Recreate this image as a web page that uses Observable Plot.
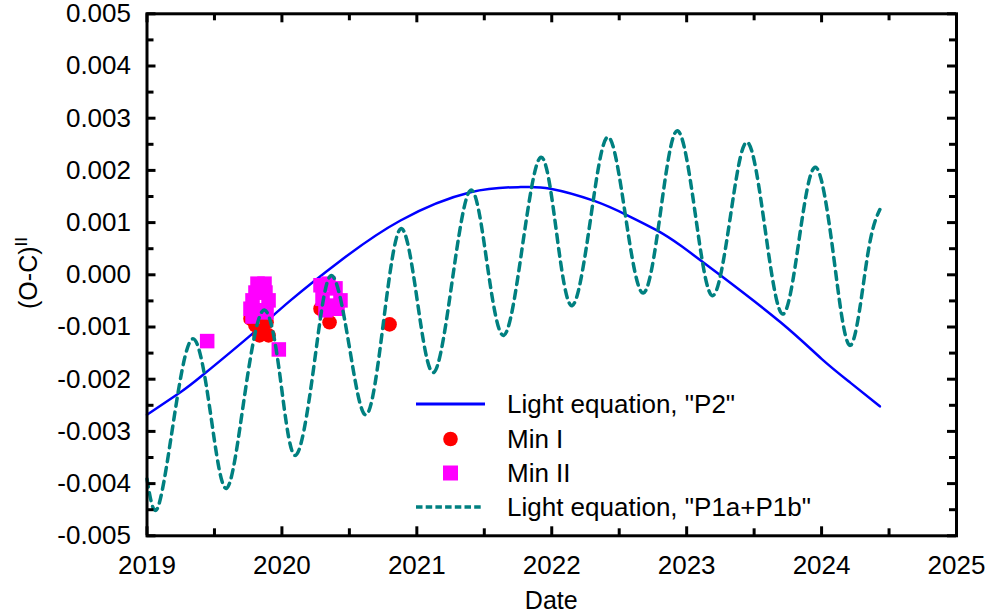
<!DOCTYPE html>
<html>
<head>
<meta charset="utf-8">
<script src="https://cdn.jsdelivr.net/npm/d3@7"></script>
<script src="https://cdn.jsdelivr.net/npm/@observablehq/plot@0.6"></script>
<style>
  html, body { margin: 0; padding: 0; background: #fff; }
  #chart { width: 989px; height: 616px; }
</style>
</head>
<body>
<div id="chart"></div>
<script>
// Light equation "P2" (long-period term), O-C in days
const p2Years = [2019.000, 2019.248, 2019.409, 2019.767, 2020.064, 2020.434, 2020.879, 2021.398, 2021.769, 2021.990, 2022.310, 2022.560, 2022.780, 2022.955, 2023.250, 2023.696, 2024.000, 2024.215, 2024.432];
const p2Values = [-0.00268, -0.00225, -0.00193, -0.00116, -0.00049, 0.00027, 0.00104, 0.00158, 0.00168, 0.00165, 0.00142, 0.00114, 0.00085, 0.00056, -0.00001, -0.00091, -0.00161, -0.00207, -0.00252];

// Light equation "P1a+P1b" (short-period terms added)
const p1Years = [2019.000, 2019.076, 2019.190, 2019.335, 2019.471, 2019.590, 2019.718, 2019.854, 2019.977, 2020.096, 2020.236, 2020.360, 2020.496, 2020.627, 2020.753, 2020.879, 2021.003, 2021.126, 2021.262, 2021.398, 2021.520, 2021.645, 2021.780, 2021.917, 2022.035, 2022.152, 2022.286, 2022.416, 2022.547, 2022.678, 2022.805, 2022.930, 2023.062, 2023.190, 2023.322, 2023.449, 2023.580, 2023.709, 2023.832, 2023.956, 2024.088, 2024.215, 2024.339, 2024.432];
const p1Values = [-0.00391, -0.00448, -0.00292, -0.00123, -0.00266, -0.00409, -0.00241, -0.00070, -0.00177, -0.00346, -0.00177, -0.00002, -0.00132, -0.00268, -0.00090, 0.00088, -0.00049, -0.00187, -0.00012, 0.00162, 0.00023, -0.00116, 0.00050, 0.00225, 0.00082, -0.00059, 0.00104, 0.00264, 0.00112, -0.00035, 0.00118, 0.00276, 0.00120, -0.00040, 0.00108, 0.00254, 0.00090, -0.00075, 0.00065, 0.00206, 0.00038, -0.00135, 0.00034, 0.00125];

// Primary minima
const minIYears = [2019.767, 2019.804, 2019.856, 2019.886, 2019.901, 2019.834, 2020.286, 2020.353, 2020.798];
const minIValues = [-0.00084, -0.00097, -0.00107, -0.00091, -0.00116, -0.00116, -0.00065, -0.00091, -0.00095];

// Secondary minima
const minIIYears = [2019.446, 2019.977, 2019.819, 2019.871, 2019.804, 2019.878, 2019.782, 2019.901, 2019.767, 2019.841, 2019.886, 2019.782, 2020.286, 2020.345, 2020.397, 2020.434, 2020.301, 2020.360, 2020.323, 2020.412];
const minIIValues = [-0.00127, -0.00143, -0.00017, -0.00017, -0.00034, -0.00034, -0.00049, -0.00049, -0.00065, -0.00068, -0.00072, -0.00080, -0.00020, -0.00017, -0.00026, -0.00049, -0.00046, -0.00059, -0.00068, -0.00065];

// Axis ticks
const xMajor = [2019, 2020, 2021, 2022, 2023, 2024, 2025];
const xMinor = [2019.5, 2020.5, 2021.5, 2022.5, 2023.5, 2024.5];
const yMajor = [-0.005, -0.004, -0.003, -0.002, -0.001, 0, 0.001, 0.002, 0.003, 0.004, 0.005];
const yMinor = [-0.0045, -0.0035, -0.0025, -0.0015, -0.0005, 0.0005, 0.0015, 0.0025, 0.0035, 0.0045];

const legendLabels = ['Light equation, "P2"', 'Min I', 'Min II', 'Light equation, "P1a+P1b"'];

const zip = (xs, ys) => xs.map((x, i) => ({x, y: ys[i]}));
const p2 = zip(p2Years, p2Values);
const p1 = zip(p1Years, p1Values);
const minI = zip(minIYears, minIValues);
const minII = zip(minIIYears, minIIValues);

const W = 989, H = 616;
const mL = 146.5, mR = 33, mT = 13.3, mB = 80.7;
const innerH = H - mT - mB;
const innerW = W - mL - mR;
const FONT = "'Liberation Sans', Arial, Helvetica, sans-serif";
const BLUE = "#0000ff", TEAL = "#008080", RED = "#ff0000", MAGENTA = "#ff00ff";
const DASH = "8,6";
const fmtY = v => (Math.abs(v) < 1e-12 ? 0 : v).toFixed(3);

const chart = Plot.plot({
  width: W,
  height: H,
  marginLeft: mL,
  marginRight: mR,
  marginTop: mT,
  marginBottom: mB,
  style: {fontFamily: FONT, fontSize: "26px", background: "#fff", color: "#000", overflow: "visible"},
  x: {domain: [2019, 2025], axis: null},
  y: {domain: [-0.005, 0.005], axis: null},
  marks: [
    Plot.line(p2, {x: "x", y: "y", stroke: BLUE, strokeWidth: 2.5, curve: "natural"}),
    Plot.dot(minI, {x: "x", y: "y", r: 7.3, fill: RED, stroke: "none"}),
    Plot.dot(minII, {x: "x", y: "y", r: 8.2, symbol: "square", fill: MAGENTA, stroke: "none"}),
    Plot.line(p1, {x: "x", y: "y", stroke: TEAL, strokeWidth: 3.5, strokeDasharray: DASH, curve: "natural"}),
    // inward ticks on all four sides
    Plot.ruleX(xMajor, {x: d => d, insetTop: innerH - 9, stroke: "#000", strokeWidth: 3}),
    Plot.ruleX(xMajor, {x: d => d, insetBottom: innerH - 9, stroke: "#000", strokeWidth: 3}),
    Plot.ruleX(xMinor, {x: d => d, insetTop: innerH - 7, stroke: "#000", strokeWidth: 3}),
    Plot.ruleX(xMinor, {x: d => d, insetBottom: innerH - 7, stroke: "#000", strokeWidth: 3}),
    Plot.ruleY(yMajor, {y: d => d, insetRight: innerW - 9, stroke: "#000", strokeWidth: 3}),
    Plot.ruleY(yMajor, {y: d => d, insetLeft: innerW - 9, stroke: "#000", strokeWidth: 3}),
    Plot.ruleY(yMinor, {y: d => d, insetRight: innerW - 7, stroke: "#000", strokeWidth: 3}),
    Plot.ruleY(yMinor, {y: d => d, insetLeft: innerW - 7, stroke: "#000", strokeWidth: 3}),
    Plot.axisX({ticks: xMajor, tickSize: 0, tickPadding: 20, tickFormat: d => String(d), label: null, fontSize: 26}),
    Plot.axisY({ticks: yMajor, tickSize: 0, tickPadding: 16, tickFormat: fmtY, label: null, fontSize: 26}),
    Plot.frame({stroke: "#000", strokeWidth: 3})
  ]
});

document.getElementById("chart").appendChild(chart);

const svg = d3.select(chart);

// axis titles
svg.append("text")
  .attr("x", mL + innerW / 2).attr("y", 600).attr("dy", "0.35em")
  .attr("text-anchor", "middle").attr("font-size", 25).attr("font-family", FONT)
  .attr("fill", "#000").text("Date");

const yt = svg.append("text")
  .attr("transform", "translate(37,273) rotate(-90)")
  .attr("text-anchor", "middle").attr("font-size", 25).attr("font-family", FONT)
  .attr("fill", "#000");
yt.append("tspan").text("(O-C)");
yt.append("tspan").attr("dy", -10).attr("font-size", 17).text("II");

// legend
const lg = svg.append("g").attr("font-family", FONT).attr("font-size", 26).attr("text-anchor", "start");
const rows = [404, 439, 473, 507];
lg.append("line").attr("x1", 416).attr("x2", 485).attr("y1", rows[0]).attr("y2", rows[0])
  .attr("stroke", BLUE).attr("stroke-width", 3);
lg.append("circle").attr("cx", 450.5).attr("cy", rows[1]).attr("r", 7.3).attr("fill", RED);
lg.append("rect").attr("x", 443).attr("y", rows[2] - 7.5).attr("width", 15).attr("height", 15).attr("fill", MAGENTA);
lg.append("line").attr("x1", 416).attr("x2", 483).attr("y1", rows[3]).attr("y2", rows[3])
  .attr("stroke", TEAL).attr("stroke-width", 3.5).attr("stroke-dasharray", "6.5,3.2");
legendLabels.forEach((t, i) => {
  lg.append("text").attr("x", 507).attr("y", rows[i]).attr("dy", "0.35em")
    .attr("text-anchor", "start").attr("fill", "#000").text(t);
});
</script>
</body>
</html>
